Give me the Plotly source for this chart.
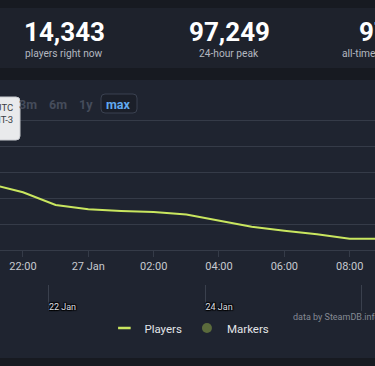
import plotly.graph_objects as go

# ---------------- data ----------------
times = [
    "2025-01-26 21:00", "2025-01-26 22:00", "2025-01-26 23:00",
    "2025-01-27 00:00", "2025-01-27 01:00", "2025-01-27 02:00",
    "2025-01-27 03:00", "2025-01-27 04:00", "2025-01-27 05:00",
    "2025-01-27 06:00", "2025-01-27 07:00", "2025-01-27 08:00",
    "2025-01-27 09:00",
]
players = [63900, 55900, 43600, 39400, 37800, 36800, 34400,
           28400, 22600, 18700, 15200, 10900, 10900]

x_tick_vals = ["2025-01-26 22:00", "2025-01-27 00:00", "2025-01-27 02:00",
               "2025-01-27 04:00", "2025-01-27 06:00", "2025-01-27 08:00"]
x_tick_text = ["22:00", "27 Jan", "02:00", "04:00", "06:00", "08:00"]

nav_tick_vals = ["2025-01-22", "2025-01-24", "2025-01-26"]
nav_tick_text = ["22 Jan", "24 Jan", "26 Jan"]

stat_values = ["14,343", "97,249", "97,249"]
stat_labels = ["players right now", "24-hour peak", "all-time peak"]

range_buttons = ["3m", "6m", "1y"]
active_button = "max"

# ---------------- layout helpers ----------------
W, H = 375, 366


def px(x):
    return x / W


def py(y):
    return 1 - y / H


def rrect(x0, y0, x1, y1, r):
    """Rounded rectangle path in paper coords from pixel coords."""
    X = lambda v: px(v)
    Y = lambda v: py(v)
    return (f"M {X(x0 + r)},{Y(y0)} L {X(x1 - r)},{Y(y0)} Q {X(x1)},{Y(y0)} {X(x1)},{Y(y0 + r)} "
            f"L {X(x1)},{Y(y1 - r)} Q {X(x1)},{Y(y1)} {X(x1 - r)},{Y(y1)} "
            f"L {X(x0 + r)},{Y(y1)} Q {X(x0)},{Y(y1)} {X(x0)},{Y(y1 - r)} "
            f"L {X(x0)},{Y(y0 + r)} Q {X(x0)},{Y(y0)} {X(x0 + r)},{Y(y0)} Z")


LINE = "#c9e65f"
GRID = "#353b48"
FONT = "Roboto"

fig = go.Figure()

fig.add_trace(go.Scatter(
    x=times, y=players, mode="lines", name="Players",
    line=dict(color=LINE, width=2), showlegend=False,
    legendgroup="players", xaxis="x", yaxis="y",
))
# legend entries
fig.add_trace(go.Scatter(
    x=[None], y=[None], mode="markers", name="Players", legendgroup="players",
    marker=dict(symbol="line-ew", size=9, line=dict(color=LINE, width=2.5)),
    xaxis="x", yaxis="y",
))
fig.add_trace(go.Scatter(
    x=[None], y=[None], mode="markers", name="Markers",
    marker=dict(symbol="circle", size=10, color="#5b6b3c"),
    xaxis="x", yaxis="y",
))
# navigator (empty series to carry its axes)
fig.add_trace(go.Scatter(
    x=[nav_tick_vals[0]], y=[None], mode="lines", showlegend=False,
    xaxis="x2", yaxis="y2", hoverinfo="skip",
))

shapes = [
    dict(type="rect", xref="paper", yref="paper", x0=0, x1=1, y0=py(8), y1=py(68),
         fillcolor="#1e222c", line=dict(width=0), layer="below"),
    dict(type="rect", xref="paper", yref="paper", x0=0, x1=1, y0=py(80), y1=py(358),
         fillcolor="#1f2430", line=dict(width=0), layer="below"),
    dict(type="path", xref="paper", yref="paper", path=rrect(101, 94, 137, 113, 4),
         fillcolor="#1b1f29", line=dict(color="#3a4150", width=1), layer="above"),
    dict(type="path", xref="paper", yref="paper", path=rrect(-12, 97, 20, 140, 4),
         fillcolor="#e9eaec", line=dict(color="#c9cbd0", width=1), layer="above"),
]

annotations = []
stat_x = [64, 229]
for i, (v, l) in enumerate(zip(stat_values[:2], stat_labels[:2])):
    annotations.append(dict(x=px(stat_x[i]), y=py(32), xref="paper", yref="paper",
                            text=f"<b>{v}</b>", showarrow=False,
                            font=dict(family=FONT, size=26, color="#ffffff"),
                            xanchor="center", yanchor="middle"))
    annotations.append(dict(x=px(stat_x[i]), y=py(53), xref="paper", yref="paper",
                            text=l, showarrow=False,
                            font=dict(family=FONT, size=10.2, color="#b4b8c0"),
                            xanchor="center", yanchor="middle"))
annotations.append(dict(x=px(357), y=py(32), xref="paper", yref="paper",
                        text=f"<b>{stat_values[2]}</b>", showarrow=False,
                        font=dict(family=FONT, size=26, color="#ffffff"),
                        xanchor="left", yanchor="middle"))
annotations.append(dict(x=px(340), y=py(53), xref="paper", yref="paper",
                        text=stat_labels[2], showarrow=False,
                        font=dict(family=FONT, size=10.2, color="#b4b8c0"),
                        xanchor="left", yanchor="middle"))

btn_x = [28, 58, 86]
for b, bx in zip(range_buttons, btn_x):
    annotations.append(dict(x=px(bx), y=py(104), xref="paper", yref="paper",
                            text=f"<b>{b}</b>", showarrow=False,
                            font=dict(family=FONT, size=12.5, color="#454c5b"),
                            xanchor="center", yanchor="middle"))
annotations.append(dict(x=px(118.5), y=py(104), xref="paper", yref="paper",
                        text=f"<b>{active_button}</b>", showarrow=False,
                        font=dict(family=FONT, size=12.5, color="#62aaf0"),
                        xanchor="center", yanchor="middle"))

annotations.append(dict(x=px(15), y=py(113), xref="paper", yref="paper",
                        text="UTC<br>GMT-3", showarrow=False, align="right",
                        font=dict(family=FONT, size=9.5, color="#3a3d44"),
                        xanchor="right", yanchor="middle"))

annotations.append(dict(x=px(291), y=py(317), xref="paper", yref="paper",
                        text="data by SteamDB.info (powered by Highcharts)", showarrow=False,
                        font=dict(family=FONT, size=9, color="#858a94"),
                        xanchor="left", yanchor="middle"))

fig.update_layout(
    width=W, height=H,
    margin=dict(l=0, r=0, t=0, b=0),
    paper_bgcolor="#171a21",
    plot_bgcolor="rgba(0,0,0,0)",
    font=dict(family=FONT, color="#c6c9cf"),
    showlegend=True,
    legend=dict(orientation="h", x=0.505, xanchor="center", y=py(328), yanchor="middle",
                font=dict(family=FONT, size=11.5, color="#e2e4e8"),
                bgcolor="rgba(0,0,0,0)", itemclick=False),
    xaxis=dict(
        domain=[0, 1], anchor="y", type="date",
        range=["2025-01-26 21:17:50", "2025-01-27 08:46:30"],
        tickvals=x_tick_vals, ticktext=x_tick_text,
        ticks="outside", ticklen=6, tickcolor=GRID,
        showgrid=False, showline=False, zeroline=False,
        tickfont=dict(family=FONT, size=11, color="#c6c9cf"),
    ),
    yaxis=dict(
        domain=[py(250), py(110)], anchor="x",
        range=[0, 135600], dtick=25000, tick0=0,
        showticklabels=False, showgrid=True, gridcolor=GRID, gridwidth=1,
        zeroline=True, zerolinecolor=GRID, zerolinewidth=1, showline=False,
    ),
    xaxis2=dict(
        domain=[0, 1], anchor="y2", type="date",
        range=["2025-01-21 09:00", "2025-01-26 04:00"],
        tickvals=nav_tick_vals, ticktext=nav_tick_text,
        ticklabelposition="inside right", ticks="", ticklabelstandoff=-7,
        showgrid=True, gridcolor="#3a404d", gridwidth=1,
        showline=False, zeroline=False,
        tickfont=dict(family=FONT, size=9, color="#dcdde0",
                      shadow="1px 1px 1px #000, -1px -1px 1px #000, 1px -1px 1px #000, -1px 1px 1px #000"),
    ),
    yaxis2=dict(
        domain=[py(311), py(285)], anchor="x2", range=[0, 1],
        tickvals=[1], showticklabels=False, showgrid=True, gridcolor=GRID,
        zeroline=False, showline=False,
    ),
    shapes=shapes,
    annotations=annotations,
    hovermode=False,
)

fig.write_html(
    "out.html",
    config={"displayModeBar": False},
    post_script="document.body.style.margin='0';document.body.style.overflow='hidden';",
)
